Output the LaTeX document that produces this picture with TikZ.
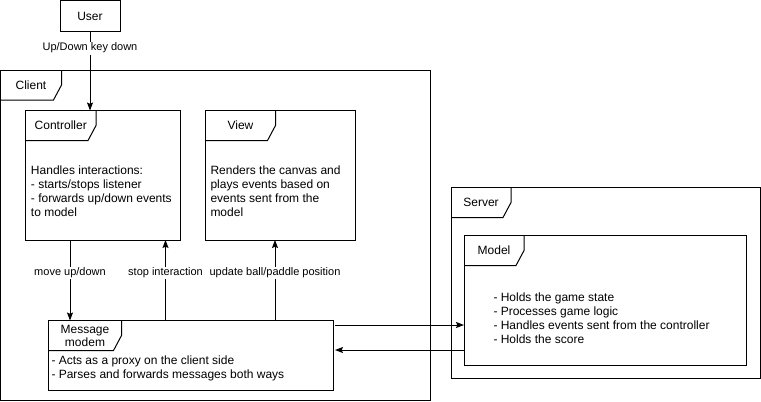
\documentclass[tikz,border=0pt]{standalone}
\usepackage{fontspec}
\setmainfont{Liberation Sans}
\usetikzlibrary{arrows.meta, calc, positioning}

\begin{document}
\begin{tikzpicture}[x=0.75pt, y=-0.75pt, line width=0.75pt, font=\fontsize{9}{10.5}\selectfont,
  frame/.style={draw, anchor=north west, inner sep=0pt, outer sep=0pt},
  body/.style={anchor=north west, inner sep=0pt, align=left},
  tablabel/.style={inner sep=0pt, align=center, font=\fontsize{9}{9.75}\selectfont},
  lbl/.style={fill=white, inner sep=1pt, font=\fontsize{8.25}{10}\selectfont},
  arr/.style={-{Stealth[length=6pt, width=4.5pt, inset=1pt]}}]

\useasboundingbox (0,0) rectangle (761,401);

% frames and boxes
\node[frame, minimum width=45pt, minimum height=23.25pt] (user) at (60,0.5) {User};
\node[frame, minimum width=322.125pt, minimum height=247.5pt] (client) at (0.5,70) {};
\node[frame, minimum width=116.25pt, minimum height=97.125pt] (ctrl) at (25.5,110.5) {};
\node[frame, minimum width=112.5pt, minimum height=97.125pt] (view) at (205.5,110.5) {};
\node[frame, minimum width=213.375pt, minimum height=52.125pt] (modem) at (48.5,320.5) {};
\node[frame, minimum width=232.125pt, minimum height=142.875pt] (server) at (451,187.5) {};
\node[frame, minimum width=211.5pt, minimum height=97.125pt] (model) at (464,235.5) {};

% name tabs
\foreach \n/\w/\t in {client/61/Client, ctrl/70.5/Controller, view/70/View,
    modem/73/{Message\\modem}, server/60/Server, model/60/Model} {
  \draw ($(\n.north west)+(\w,0)$) -- ++(0,15) -- ++(-8,15) -- ($(\n.north west)+(0,30)$);
  \node[tablabel] at ($(\n.north west)+(\w/2,15)$) {\t};
}

% box texts
\node[body] (ctrltxt) at (30.5,165) {Handles interactions:\\- starts/stops listener\\- forwards up/down events\\to model};
\node[body] (viewtxt) at (210,165.5) {Renders the canvas and\\plays events based on\\events sent from the\\model};
\node[body] (modemtxt) at (51,355) {- Acts as a proxy on the client side\\- Parses and forwards messages both ways};
\node[body] (modeltxt) at (493,292.5) {- Holds the game state\\- Processes game logic\\- Handles events sent from the controller\\- Holds the score};

% connectors
\coordinate (mv) at (70,0);
\coordinate (st) at (165.5,0);
\coordinate (up) at (275,0);
\coordinate (tx) at (0,325);
\coordinate (rx) at (0,350);

\draw[arr] (user.south) -- (ctrl.north -| user) node[lbl, pos=0.21] {Up/Down key down};
\draw[arr] (ctrl.south -| mv) -- (modem.north -| mv) node[lbl, pos=0.41] {move up/down};
\draw[arr] (modem.north -| st) -- (ctrl.south -| st) node[lbl, pos=0.59] {stop interaction};
\draw[arr] (modem.north -| up) -- (view.south -| up) node[lbl, pos=0.59] {update ball/paddle position};
\draw[arr, shorten <=1.5pt] (modem.east |- tx) -- (model.west |- tx);
\draw[arr, shorten >=1.5pt] (model.west |- rx) -- (modem.east |- rx);

\end{tikzpicture}
\end{document}
